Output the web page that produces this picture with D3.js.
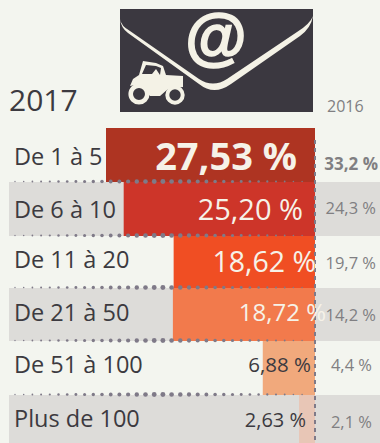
<!DOCTYPE html>
<html>
<head>
<meta charset="utf-8">
<script src="https://cdn.jsdelivr.net/npm/d3@7"></script>
<style>
html, body { margin:0; padding:0; background:#f3f5ef; overflow:hidden; }
text { font-family:"Open Sans", sans-serif; }
</style>
</head>
<body>
<svg id="canvas" width="380" height="443"></svg>
<script>
const width = 380;
const height = 443;

const categories = ["De 1 à 5","De 6 à 10","De 11 à 20","De 21 à 50","De 51 à 100","Plus de 100"];
const values2017 = [27.53,25.20,18.62,18.72,6.88,2.1];
const labels2017 = ["27,53 %","25,20 %","18,62 %","18,72 %","6,88 %","2,63 %"];
const labels2016 = ["33,2 %","24,3 %","19,7 %","14,2 %","4,4 %","2,1 %"];
const barColors = ["#ae3422","#cd3529","#f04e23","#f27a4c","#f1a97c","#e8c6b6"];

const svg = d3.select("#canvas");

const rowTops = [128,182,236,288,341,395,443];
const right = 315;

const x = d3.scaleLinear().domain([0,27.53]).range([right,106]);

// grey bands behind even rows
[1,3,5].forEach(i => {
    svg.append("rect")
        .attr("x",9).attr("y",rowTops[i])
        .attr("width",width-9).attr("height",rowTops[i+1]-rowTops[i])
        .attr("fill","#dddcd9");
});

svg.selectAll("rect.bar")
    .data(values2017)
    .enter()
    .append("rect")
    .attr("class","bar")
    .attr("x", d => x(d))
    .attr("y", (d,i) => rowTops[i])
    .attr("width", d => right - x(d))
    .attr("height", (d,i) => rowTops[i+1]-rowTops[i])
    .attr("fill", (d,i) => barColors[i]);

// dotted separators, dots get bigger toward the middle
[1,2,3,4,5].forEach(i => {
    d3.range(15,310,8.7).forEach(px => {
        const t = 1 - Math.abs(px-160)/150;
        svg.append("circle")
            .attr("cx",px).attr("cy",rowTops[i]-0.5)
            .attr("r",0.6 + 1.9*Math.max(0,t))
            .attr("fill","#7f7a88");
    });
});

svg.append("line")
    .attr("x1",right).attr("x2",right)
    .attr("y1",140).attr("y2",height)
    .attr("stroke","#7f7a88")
    .attr("stroke-width",2)
    .attr("stroke-dasharray","4 4");

// row text
svg.selectAll("text.cat")
    .data(categories)
    .enter()
    .append("text")
    .attr("class","cat")
    .attr("x",14)
    .attr("y",(d,i) => [165,218,268,321,373,427][i])
    .attr("font-size",23.5)
    .attr("fill","#3c3a40")
    .text(d => d);

const labelRight = [297,303,316,326,311,306];
const labelSize = [38,29,28.5,24,20.5,20];
const labelBase = [170,220,272,321,372,427];
const labelColor = ["#f6f2e8","#f6f2e8","#f6f2e8","#f6f2e8","#3c3a40","#3c3a40"];

svg.selectAll("text.val")
    .data(labels2017)
    .enter()
    .append("text")
    .attr("class","val")
    .attr("x",(d,i) => labelRight[i])
    .attr("y",(d,i) => labelBase[i])
    .attr("text-anchor","end")
    .attr("font-size",(d,i) => labelSize[i])
    .attr("font-weight",(d,i) => i==0 ? 700 : 400)
    .attr("fill",(d,i) => labelColor[i])
    .text(d => d);

const oldRight = [378,376,376,376,372,372];
const oldBase = [170,214,269,321,371,428];

svg.selectAll("text.old")
    .data(labels2016)
    .enter()
    .append("text")
    .attr("class","old")
    .attr("x",(d,i) => oldRight[i])
    .attr("y",(d,i) => oldBase[i])
    .attr("text-anchor","end")
    .attr("font-size",(d,i) => i==0 ? 17 : 16.5)
    .attr("font-weight",(d,i) => i==0 ? 700 : 400)
    .attr("fill","#807f82")
    .text(d => d);

svg.append("text").attr("x",9).attr("y",111).attr("font-size",30).attr("fill","#3c3a40").text("2017");
svg.append("text").attr("x",327).attr("y",112).attr("font-size",16).attr("fill","#807f82").text("2016");

// envelope icon
const icon = svg.append("g");
icon.append("rect").attr("x",120).attr("y",9).attr("width",193).attr("height",103).attr("fill","#3b3840");
icon.append("path")
    .attr("d","M120 19 Q121 26 130 31 L199 79 Q213 88 227 79 L297 32 Q310 24 313 16 Q311 28 300 36 L231 84 Q214 96 199 84 L128 33 Q121 28 120 19Z")
    .attr("fill","#f4f2e6");
icon.append("text")
    .attr("x",216).attr("y",58)
    .attr("text-anchor","middle")
    .style("font-family","'Liberation Sans', sans-serif")
    .attr("font-size",63)
    .attr("font-weight",700)
    .attr("fill","#f4f2e6")
    .attr("stroke","#f4f2e6")
    .attr("stroke-width",1.6)
    .text("@");

// tractor
icon.append("path")
    .attr("d","M143 61 L156 63 L163 66 L166 75 L183 76 L183 87 L168 89 L160 96 L150 96 L140 84 L130 86 L133 79 L139 75 Z M146 65 L142 74 L152 74 L156 69 L160 75 L161 68 L156 66 Z")
    .attr("fill","#f4f2e6").attr("fill-rule","evenodd");
icon.append("circle").attr("cx",139).attr("cy",94).attr("r",8.3).attr("fill","#3b3840").attr("stroke","#f4f2e6").attr("stroke-width",4.6);
icon.append("circle").attr("cx",175).attr("cy",95).attr("r",7.7).attr("fill","#3b3840").attr("stroke","#f4f2e6").attr("stroke-width",4);
</script>
</body>
</html>
